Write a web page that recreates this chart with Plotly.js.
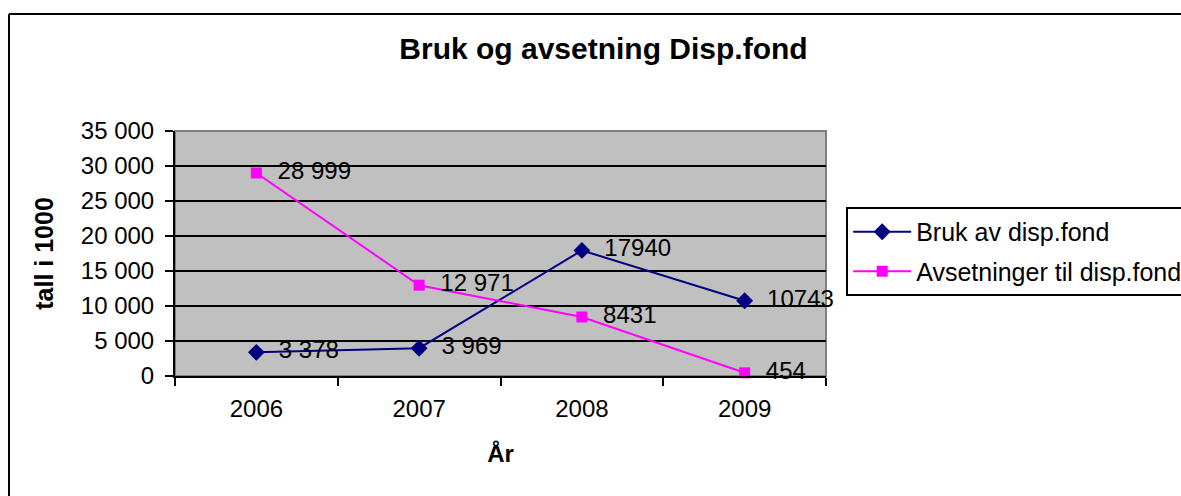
<!DOCTYPE html>
<html>
<head>
<meta charset="utf-8">
<script src="https://cdn.plot.ly/plotly-3.0.1.min.js"></script>
<style>
  body { margin: 0; background: #fff; }
  #chart { width: 1181px; height: 496px; }
</style>
</head>
<body>
<div id="chart"></div>
<script>
const years = ['2006', '2007', '2008', '2009'];
const bruk = [3378, 3969, 17940, 10743];
const brukLabels = ['3 378', '3 969', '17940', '10743'];
const avsetning = [28999, 12971, 8431, 454];
const avsetningLabels = ['28 999', '12 971', '8431', '454'];

const font = 'Liberation Sans, Arial, sans-serif';
const pad = '\u00a0\u00a0';

const traces = [
    {
        x: years, y: bruk, text: brukLabels.map(t => pad + t),
        name: 'Bruk av disp.fond',
        mode: 'lines+markers+text',
        textposition: 'middle right',
        textfont: {size: 24, color: '#000'},
        line: {color: '#000080', width: 2},
        marker: {symbol: 'diamond', size: 13, color: '#000080'},
        legendgroup: 'a',
        cliponaxis: false,
    },
    {
        x: years, y: avsetning, text: avsetningLabels.map(t => pad + t),
        name: 'Avsetninger til disp.fond',
        mode: 'lines+markers+text',
        textposition: 'middle right',
        textfont: {size: 24, color: '#000'},
        line: {color: '#FF00FF', width: 2},
        marker: {symbol: 'square', size: 11, color: '#FF00FF'},
        legendgroup: 'b',
        cliponaxis: false,
    },
];

const layout = {
    width: 1181,
    height: 496,
    margin: {l: 175, r: 355, t: 131, b: 120, autoexpand: false},
    paper_bgcolor: '#fff',
    plot_bgcolor: '#C0C0C0',
    separators: ', ',
    font: {family: font, size: 24, color: '#000'},
    title: {
        text: '<b>Bruk og avsetning Disp.fond</b>',
        font: {size: 30},
        xref: 'container', x: 0.511, xanchor: 'center',
        yref: 'container', y: 0.903, yanchor: 'middle',
    },
    xaxis: {
        type: 'category',
        range: [-0.5, 3.5],
        tickson: 'boundaries',
        ticks: 'outside', ticklen: 8, tickwidth: 2, tickcolor: '#000',
        showgrid: false,
        showline: true, linecolor: '#000', linewidth: 2,
        ticklabelstandoff: 10,
        title: {text: '<b>År</b>', font: {size: 24}, standoff: 24},
        fixedrange: true,
    },
    yaxis: {
        range: [0, 35000],
        dtick: 5000,
        tickformat: ',d',
        ticks: 'outside', ticklen: 8, tickwidth: 2, tickcolor: '#000',
        showgrid: true, gridcolor: '#000', gridwidth: 2,
        showline: true, linecolor: '#000', linewidth: 2,
        zeroline: false,
        ticklabelstandoff: 6,
        title: {text: '<b>tall i 1000</b>', font: {size: 25}, standoff: 20},
        fixedrange: true,
    },
    legend: {
        x: 1.031, xanchor: 'left',
        y: 0.69, yanchor: 'top',
        bordercolor: '#000', borderwidth: 2,
        bgcolor: '#fff',
        font: {size: 25},
        itemwidth: 58,
        tracegroupgap: 4,
    },
    showlegend: true,
    shapes: [
        // grey border on top and right of the plot area
        {type: 'rect', xref: 'x domain', yref: 'y domain', x0: 0, x1: 1, y0: 0, y1: 1,
         line: {color: '#808080', width: 2}, layer: 'below'},
        // outer chart frame: only top and left edges are inside the picture
        {type: 'line', xref: 'paper', yref: 'paper', x0: -0.255, x1: 3, y0: 1.478, y1: 1.478,
         line: {color: '#000', width: 2}},
        {type: 'line', xref: 'paper', yref: 'paper', x0: -0.255, x1: -0.255, y0: -0.7, y1: 1.478,
         line: {color: '#000', width: 2}},
    ],
};

Plotly.newPlot('chart', traces, layout, {displayModeBar: false, staticPlot: true});
</script>
</body>
</html>
